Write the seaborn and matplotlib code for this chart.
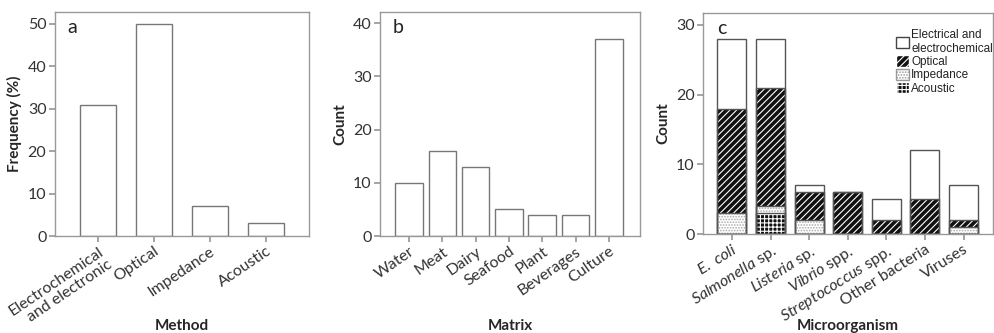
import pandas as pd
import matplotlib
matplotlib.use("Agg")
import matplotlib.pyplot as plt
import seaborn as sns
from matplotlib.patches import Patch

# panel a
methods = ["Electrochemical\nand electronic", "Optical", "Impedance", "Acoustic"]
method_freq = [31, 50, 7, 3]

# panel b
matrices = ["Water", "Meat", "Dairy", "Seafood", "Plant", "Beverages", "Culture"]
matrix_count = [10, 16, 13, 5, 4, 4, 37]

# panel c
microbes = ["E. coli", "Salmonella sp.", "Listeria sp.", "Vibrio spp.",
            "Streptococcus spp.", "Other bacteria", "Viruses"]
microbe_ticks = [r"$\mathit{E.\ coli}$", r"$\mathit{Salmonella}$ sp.", r"$\mathit{Listeria}$ sp.",
                 r"$\mathit{Vibrio}$ spp.", r"$\mathit{Streptococcus}$ spp.", "Other bacteria", "Viruses"]
acoustic = [0, 3, 0, 0, 0, 0, 0]
impedance = [3, 1, 2, 0, 0, 0, 1]
optical = [15, 17, 4, 6, 2, 5, 1]
electrical = [10, 7, 1, 0, 3, 7, 5]

sns.set_theme(style="white")
plt.rcParams["font.family"] = ["Lato", "DejaVu Sans"]
plt.rcParams["mathtext.fontset"] = "custom"
plt.rcParams["mathtext.rm"] = "Lato"
plt.rcParams["mathtext.it"] = "Lato:italic"
plt.rcParams["hatch.linewidth"] = 0.8

EDGE = "#777777"
TXT = "#333333"
TICK_FS = 11.5
LAB_FS = 11

fig = plt.figure(figsize=(9.95, 3.33), dpi=100)
ax_a = fig.add_axes([0.055, 0.291, 0.256, 0.673])
ax_b = fig.add_axes([0.382, 0.291, 0.261, 0.673])
ax_c = fig.add_axes([0.7065, 0.297, 0.291, 0.664])


def style_axis(ax):
    for s in ax.spines.values():
        s.set_color("#999999")
        s.set_linewidth(1.0)
    ax.tick_params(axis="both", length=4, color="#999999", labelsize=TICK_FS, labelcolor=TXT,
                   bottom=True, left=True, pad=2)


# ---- a ----
df_a = pd.DataFrame({"method": methods, "freq": method_freq})
sns.barplot(data=df_a, x="method", y="freq", ax=ax_a, color="white", edgecolor=EDGE,
            linewidth=1.0, width=0.64, saturation=1)
ax_a.set_xlim(-0.77, 3.78)
ax_a.set_ylim(0, 52.8)
ax_a.set_yticks([0, 10, 20, 30, 40, 50])
ax_a.set_ylabel("Frequency (%)", fontsize=LAB_FS, fontweight="bold", labelpad=4)
ax_a.set_xlabel("Method", fontsize=LAB_FS, fontweight="bold")
ax_a.xaxis.set_label_coords(0.5, -0.37)
ax_a.set_xticks(range(len(methods)))
ax_a.set_xticklabels(methods, rotation=34, ha="right", rotation_mode="anchor", multialignment="right")
for t in ax_a.get_xticklabels():
    t.set_fontsize(11)
ax_a.text(0.05, 0.93, "a", transform=ax_a.transAxes, fontsize=14, color="#222222", va="center")
style_axis(ax_a)

# ---- b ----
df_b = pd.DataFrame({"matrix": matrices, "count": matrix_count})
sns.barplot(data=df_b, x="matrix", y="count", ax=ax_b, color="white", edgecolor=EDGE,
            linewidth=1.0, width=0.83, saturation=1)
ax_b.set_xlim(-0.87, 6.93)
ax_b.set_ylim(0, 42.1)
ax_b.set_yticks([0, 10, 20, 30, 40])
ax_b.set_ylabel("Count", fontsize=LAB_FS, fontweight="bold", labelpad=4)
ax_b.set_xlabel("Matrix", fontsize=LAB_FS, fontweight="bold")
ax_b.xaxis.set_label_coords(0.5, -0.37)
ax_b.set_xticks(range(len(matrices)))
ax_b.set_xticklabels(matrices, rotation=35, ha="right", rotation_mode="anchor")
ax_b.text(0.05, 0.93, "b", transform=ax_b.transAxes, fontsize=14, color="#222222", va="center")
style_axis(ax_b)

# ---- c : stacked, drawn as cumulative layers from top down ----
cum_ac = acoustic
cum_imp = [a + b for a, b in zip(cum_ac, impedance)]
cum_opt = [a + b for a, b in zip(cum_imp, optical)]
cum_el = [a + b for a, b in zip(cum_opt, electrical)]

layers = [
    (cum_el, dict(facecolor="white", edgecolor="white", hatch=None)),
    (cum_opt, dict(facecolor="#111111", edgecolor="white", hatch="/////")),
    (cum_imp, dict(facecolor="white", edgecolor="#aaaaaa", hatch="......")),
    (cum_ac, dict(facecolor="#111111", edgecolor="white", hatch="++++")),
]
for vals, st in layers:
    n_before = len(ax_c.patches)
    df_c = pd.DataFrame({"microbe": microbes, "count": vals})
    sns.barplot(data=df_c, x="microbe", y="count", ax=ax_c, color="white",
                width=0.75, saturation=1, linewidth=0)
    for p in ax_c.patches[n_before:]:
        p.set_facecolor(st["facecolor"])
        p.set_edgecolor(st["edgecolor"])
        p.set_linewidth(0)
        if st["hatch"]:
            p.set_hatch(st["hatch"])
# segment outlines
for vals in [cum_el, cum_opt, cum_imp, cum_ac]:
    df_c = pd.DataFrame({"microbe": microbes, "count": vals})
    sns.barplot(data=df_c, x="microbe", y="count", ax=ax_c, fill=False,
                edgecolor="#555555", linewidth=1.0, width=0.75)

ax_c.set_xlim(-0.75, 6.75)
ax_c.set_ylim(0, 31.7)
ax_c.set_yticks([0, 10, 20, 30])
ax_c.set_ylabel("Count", fontsize=LAB_FS, fontweight="bold", labelpad=4)
ax_c.set_xlabel("Microorganism", fontsize=LAB_FS, fontweight="bold")
ax_c.xaxis.set_label_coords(0.5, -0.385)
ax_c.set_xticks(range(len(microbes)))
ax_c.set_xticklabels(microbe_ticks, rotation=32, ha="right", rotation_mode="anchor")
ax_c.text(0.05, 0.93, "c", transform=ax_c.transAxes, fontsize=14, color="#222222", va="center")
style_axis(ax_c)

handles = [
    Patch(facecolor="white", edgecolor="#444444", label="Electrical and\nelectrochemical"),
    Patch(facecolor="#111111", edgecolor="white", hatch="/////", label="Optical"),
    Patch(facecolor="white", edgecolor="#999999", hatch="......", label="Impedance"),
    Patch(facecolor="#111111", edgecolor="white", hatch="++++", label="Acoustic"),
]
leg = ax_c.legend(handles=handles, loc="upper right", bbox_to_anchor=(1.03, 0.965), frameon=False,
                  prop={"family": "Liberation Sans", "size": 8.5}, handlelength=1.1,
                  handleheight=1.1, handletextpad=0.15, labelspacing=0.05, borderaxespad=0.3)
for t in leg.get_texts():
    t.set_color("#222222")

fig.savefig("out.png", dpi=100, facecolor="white")
